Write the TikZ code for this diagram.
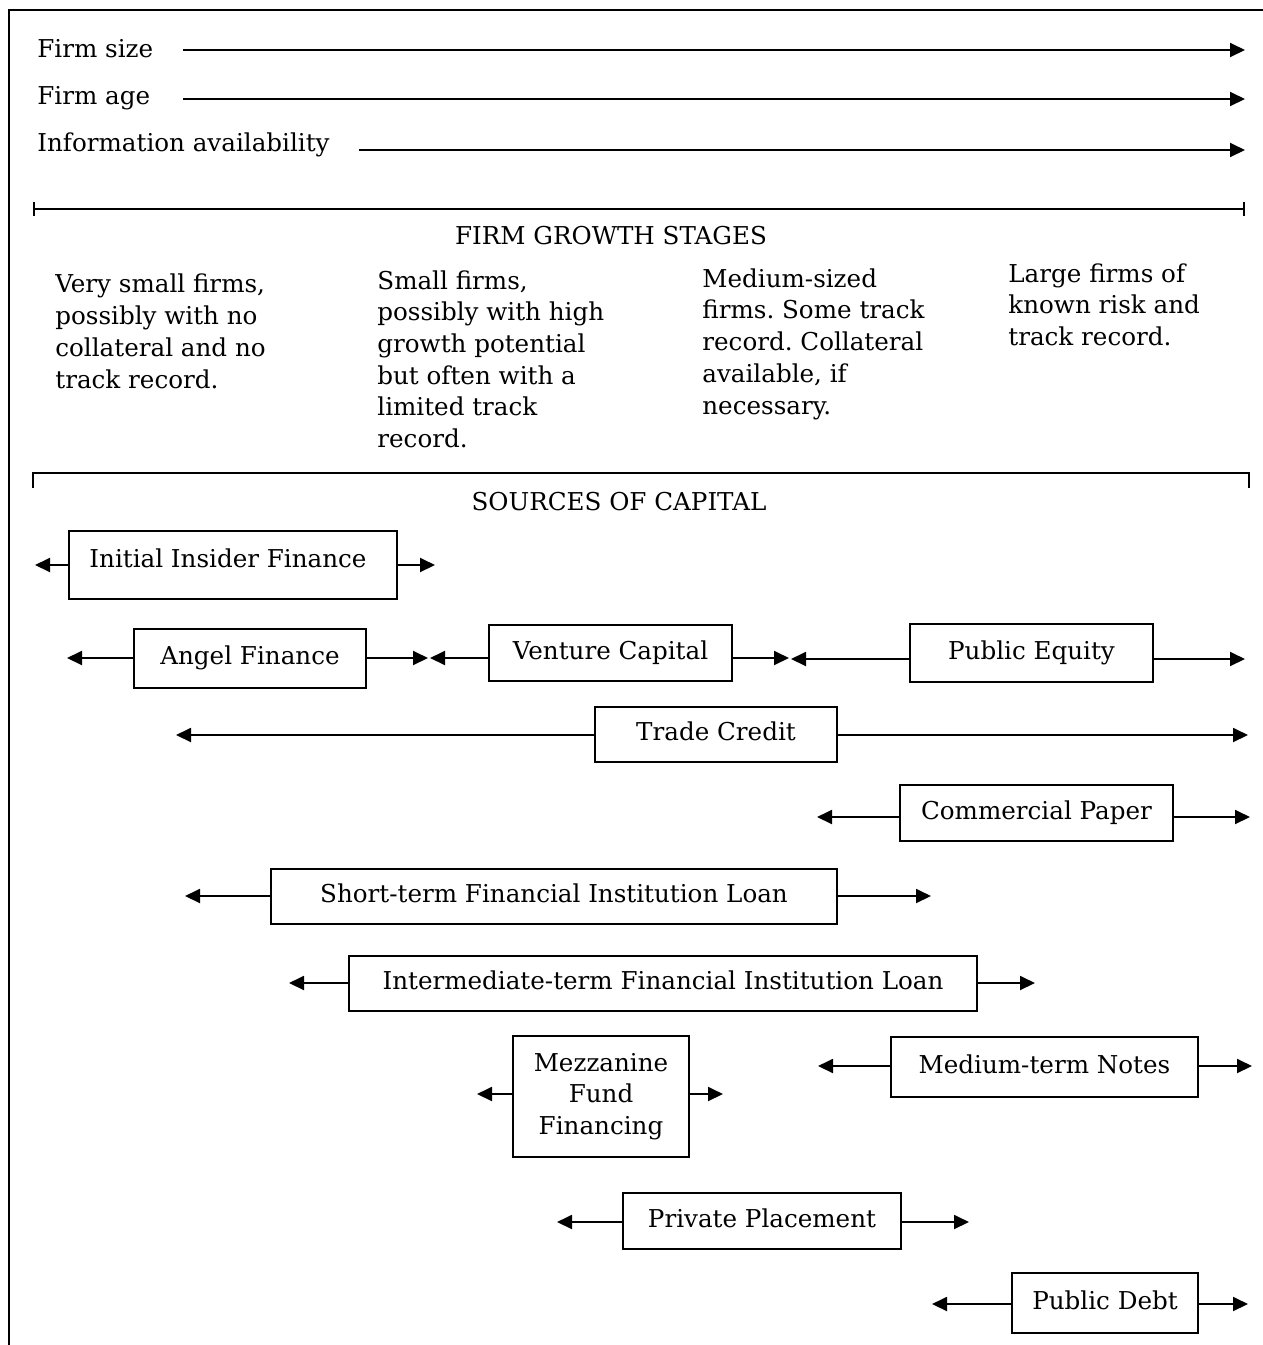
\documentclass[tikz,border=0pt]{standalone}
\usepackage{fontspec}
\setmainfont{DejaVu Serif}
\usetikzlibrary{arrows.meta}
\frenchspacing
\newcommand{\diafont}{\fontsize{12.3pt}{15.85pt}\selectfont}
\begin{document}
\begin{tikzpicture}[x=0.5pt,y=-0.5pt,
  every node/.style={font=\diafont, inner sep=0pt},
  frameline/.style={line width=1.3pt, line cap=rect},
  rulerline/.style={line width=0.9pt},
  arr/.style={line width=0.95pt, -{Triangle[length=7.5pt,width=7pt]}},
  srcbox/.style={draw, line width=1.1pt, text height=9pt, text depth=2.6pt},
  multibox/.style={draw, line width=1.1pt, align=center},
  lbl/.style={anchor=base west},
  stagetext/.style={anchor=base west, align=left},
  title/.style={anchor=base}
]
\useasboundingbox (0,0) rectangle (1263,1345);
% frame (top and left edges)
\draw[frameline] (1263,10) -- (9,10) -- (9,1345);

% top indicators
\node[lbl] (fsize) at (37,57) {Firm size};
\node[lbl] (fage) at (37,104) {Firm age};
\node[lbl] (finfo) at (37,151) {Information availability};
\coordinate (fsizeS) at (183,50);  \coordinate (fsizeE) at (1245,50);
\coordinate (fageS) at (183,99);   \coordinate (fageE) at (1245,99);
\coordinate (finfoS) at (359,150); \coordinate (finfoE) at (1245,150);
\draw[arr] (fsizeS) -- (fsizeE);
\draw[arr] (fageS) -- (fageE);
\draw[arr] (finfoS) -- (finfoE);

% growth stages ruler
\draw[rulerline] (34,209) -- (1244,209);
\draw[rulerline] (34,202) -- (34,216);
\draw[rulerline] (1244,202) -- (1244,216);
\node[title] (stages) at (611,244) {FIRM GROWTH STAGES};

% base anchor of a multi-line node lies on its last baseline
\node[stagetext] (st1) at (55,388) {Very small firms,\\possibly with no\\collateral and no\\track record.};
\node[stagetext] (st2) at (377,447.5) {Small firms,\\possibly with high\\growth potential\\but often with a\\limited track\\record.};
\node[stagetext] (st3) at (702,414) {Medium-sized\\firms. Some track\\record. Collateral\\available, if\\necessary.};
\node[stagetext] (st4) at (1008,345.5) {Large firms of\\known risk and\\track record.};

% sources bracket
\draw[rulerline] (33,488) -- (33,473) -- (1249,473) -- (1249,488);
\node[title] (sources) at (619,510) {SOURCES OF CAPITAL};

% boxes
\node[srcbox, minimum width=164pt, minimum height=34pt] (ins) at (233,565) {\raisebox{2pt}[\height][\depth]{Initial Insider Finance}\kern5pt};
\node[srcbox, minimum width=116pt, minimum height=29.5pt] (ang) at (250,658.5) {Angel Finance};
\node[srcbox, minimum width=121.5pt, minimum height=28pt] (vc) at (610.5,653) {Venture Capital};
\node[srcbox, minimum width=121.5pt, minimum height=29pt] (pe) at (1031.5,653) {Public Equity};
\node[srcbox, minimum width=121pt, minimum height=27.5pt] (tc) at (716,734.5) {Trade Credit};
\node[srcbox, minimum width=136.5pt, minimum height=28pt] (cp) at (1036.5,813) {Commercial Paper};
\node[srcbox, minimum width=283pt, minimum height=27.5pt] (stl) at (554,896.5) {Short-term Financial Institution Loan};
\node[srcbox, minimum width=314pt, minimum height=27.5pt] (itl) at (663,983.5) {Intermediate-term Financial Institution Loan};
\node[multibox, minimum width=88pt, minimum height=60.5pt] (mz) at (601,1096.5) {Mezzanine\\Fund\\Financing};
\node[srcbox, minimum width=153.5pt, minimum height=30pt] (mtn) at (1044.5,1067) {Medium-term Notes};
\node[srcbox, minimum width=139pt, minimum height=28pt] (pp) at (762,1221) {Private Placement};
\node[srcbox, minimum width=93pt, minimum height=30pt] (pd) at (1105,1303) {Public Debt};

% arrow end points
\coordinate (insL) at (35,565);   \coordinate (insR) at (435,565);
\coordinate (angL) at (67,658);   \coordinate (angR) at (428,658);
\coordinate (vcL) at (430,658);   \coordinate (vcR) at (789,658);
\coordinate (peL) at (791,659);   \coordinate (peR) at (1245,659);
\coordinate (tcL) at (176,735);   \coordinate (tcR) at (1248,735);
\coordinate (cpL) at (817,817);   \coordinate (cpR) at (1250,817);
\coordinate (stlL) at (185,896);  \coordinate (stlR) at (931,896);
\coordinate (itlL) at (289,983);  \coordinate (itlR) at (1035,983);
\coordinate (mzL) at (477,1094);  \coordinate (mzR) at (723,1094);
\coordinate (mtnL) at (818,1066); \coordinate (mtnR) at (1252,1066);
\coordinate (ppL) at (557,1222);  \coordinate (ppR) at (969,1222);
\coordinate (pdL) at (932,1304);  \coordinate (pdR) at (1248,1304);

\foreach \b in {ins,ang,vc,pe,tc,cp,stl,itl,mz,mtn,pp,pd}{
  \draw[arr] (\b.west |- \b L) -- (\b L);
  \draw[arr] (\b.east |- \b R) -- (\b R);
}
\end{tikzpicture}
\end{document}
